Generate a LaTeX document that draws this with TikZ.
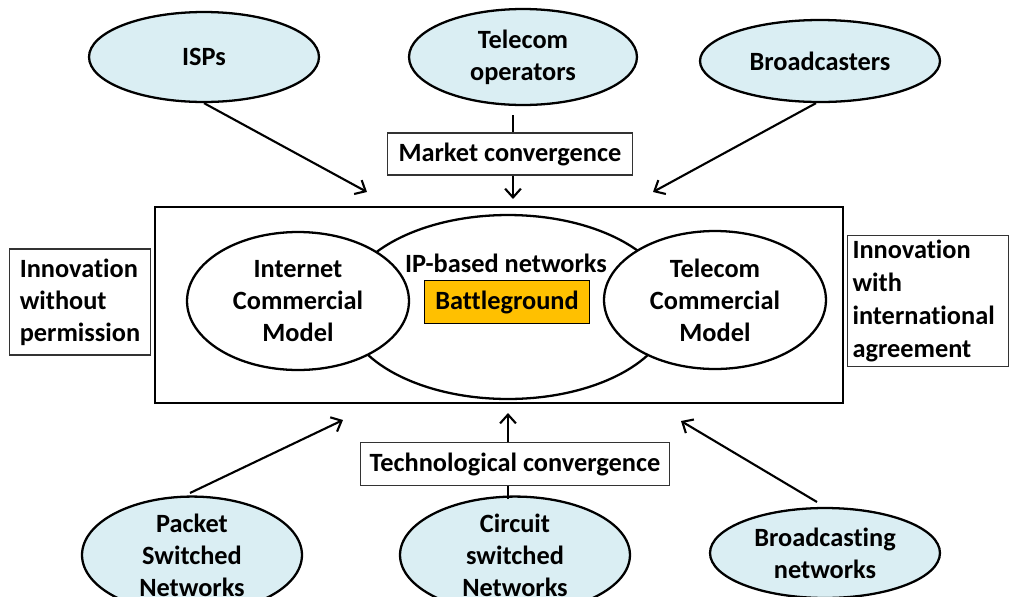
\documentclass[tikz,border=0pt]{standalone}
\usepackage{fontspec}
\setmainfont{Carlito}[Ligatures=NoCommon]
\usetikzlibrary{shapes.geometric,arrows.meta}
\definecolor{paleblue}{HTML}{DAEEF3}
\definecolor{amber}{HTML}{FFC000}

\begin{document}
\begin{tikzpicture}[x=0.02cm,y=-0.02cm]
  \tikzset {
    every node/.style={font=\fontsize{15}{18.2}\selectfont\bfseries},
    >={Straight Barb[length=5pt,width=9pt]},
    player/.style={
      ellipse,
      draw=black,
      line width=1.3pt,
      fill=paleblue,
      inner sep=0pt,
      align=center
    },
    model/.style={
      ellipse,
      draw=black,
      line width=1.3pt,
      fill=white,
      inner sep=0pt,
      minimum width=4.44cm,
      minimum height=2.76cm,
      align=center
    },
    box/.style={
      rectangle,
      draw=black!80,
      line width=0.6pt,
      inner sep=0pt
    },
    link/.style={line width=1.2pt}
  }
  \useasboundingbox (0,0) rectangle (1009,596);

  % sources on top
  \node[player, minimum width=4.6cm, minimum height=1.8cm](isps) at (204,57) {ISPs};
  \node[player, minimum width=4.56cm, minimum height=1.92cm](telecom) at (523,57) {Telecom\\operators};
  \node[player, minimum width=4.8cm, minimum height=1.64cm](broadcasters) at (820,61) {Broadcasters};
  \node[box, minimum width=4.9cm, minimum height=0.84cm](market) at (510,154) {Market convergence};

  % the arena
  \node[draw=black, line width=1.6pt, minimum width=13.76cm, minimum height=3.92cm, inner sep=0pt](arena) at (499,305) {};
  \node[ellipse, draw=black, line width=1.3pt, minimum width=6.56cm, minimum height=3.68cm, inner sep=0pt](ipnet) at (508,307) {};
  \node[model](internet) at (298,301) {Internet\\Commercial\\Model};
  \node[model](telmodel) at (715,300) {Telecom\\Commercial\\Model};
  \node(iplabel) at (506,263) {IP-based networks};
  \node[box, fill=amber, draw=black, minimum width=3.3cm, minimum height=0.86cm](battle) at (507,302) {Battleground};

  % side notes
  \node[box, minimum width=2.82cm, minimum height=2.12cm, align=left](noperm) at (80,302) {Innovation\\without\\permission};
  \node[box, minimum width=3.22cm, minimum height=2.62cm, align=left, text width=3.02cm, font=\fontsize{15}{18.6}\selectfont\bfseries](treaty) at (928,301) {Innovation\\with\\international\\agreement};

  % sources at the bottom
  \node[box, minimum width=6.2cm, minimum height=0.86cm](techconv) at (515,464) {Technological convergence};
  \node[player, minimum width=4.4cm, minimum height=1.9cm](packet) at (192,555) {Packet\\Switched\\Networks};
  \node[player, minimum width=4.6cm, minimum height=1.9cm](circuit) at (515,555) {Circuit\\switched\\Networks};
  \node[player, minimum width=4.6cm, minimum height=1.8cm](bcastnet) at (825,553) {Broadcasting\\networks};

  % free ends of the arrows
  \coordinate (ispend) at (367,192);
  \coordinate (marketend) at (513,199);
  \coordinate (broadend) at (653,192);
  \coordinate (telfoot) at (513,115);
  \coordinate (packetend) at (343,420);
  \coordinate (techend) at (508,413);
  \coordinate (bcastend) at (681,421);
  \coordinate (circfoot) at (508,499);
  \coordinate (packetfoot) at (190,493);
  \coordinate (bcastfoot) at (817,502);

  \path (isps.south) edge[link,->] (ispend);
  \path (broadcasters.south) ++(-4,0) coordinate (broadfoot);
  \path (broadfoot) edge[link,->] (broadend);
  \draw[link] (telfoot) -- (telfoot |- market.north);
  \draw[link,->] (marketend |- market.south) -- (marketend);

  \path (packetfoot) edge[link,->] (packetend);
  \path (bcastfoot) edge[link,->] (bcastend);
  \draw[link] (circfoot) -- (circfoot |- techconv.south);
  \draw[link,->] (techend |- techconv.north) -- (techend);

\end{tikzpicture}
\end{document}
